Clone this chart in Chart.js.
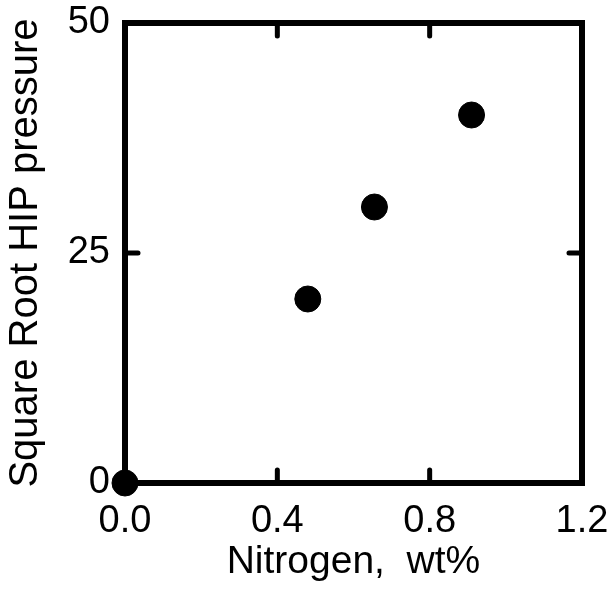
<!DOCTYPE html>
<html>
<head>
<meta charset="utf-8">
<script src="https://cdn.jsdelivr.net/npm/chart.js@4"></script>
<style>
    body { margin: 0; background: #fff; }
    #wrap { width: 615px; height: 592px; }
</style>
</head>
<body>
<div id="wrap"><canvas id="chart" width="615" height="592"></canvas></div>
<script>
// Data
const nitrogen = [0.0, 0.48, 0.655, 0.91];
const sqrtPressure = [0, 20, 30, 40];
const xTicks = [0.0, 0.4, 0.8, 1.2];
const yTicks = [0, 25, 50];
const xTitle = 'Nitrogen,  wt%';
const yTitle = 'Square Root HIP pressure';

const FONT = "'Liberation Sans', Arial, sans-serif";

// Thick frame plus small inward ticks on all four sides
const framePlugin = {
    id: 'frame',
    afterDatasetsDraw(chart) {
        const ctx = chart.ctx;
        const a = chart.chartArea;
        const xs = chart.scales.x;
        const ys = chart.scales.y;
        ctx.save();
        ctx.strokeStyle = '#000';
        ctx.lineWidth = 5;
        ctx.lineCap = 'round';
        xTicks.slice(1, -1).forEach(v => {
            const px = xs.getPixelForValue(v);
            ctx.beginPath();
            ctx.moveTo(px, a.bottom);
            ctx.lineTo(px, a.bottom - 13);
            ctx.moveTo(px, a.top);
            ctx.lineTo(px, a.top + 13);
            ctx.stroke();
        });
        yTicks.slice(1, -1).forEach(v => {
            const py = ys.getPixelForValue(v);
            ctx.beginPath();
            ctx.moveTo(a.left, py);
            ctx.lineTo(a.left + 13, py);
            ctx.moveTo(a.right, py);
            ctx.lineTo(a.right - 13, py);
            ctx.stroke();
        });
        ctx.lineCap = 'butt';
        ctx.lineWidth = 6;
        ctx.strokeRect(a.left, a.top, a.right - a.left, a.bottom - a.top);
        ctx.restore();
    }
};

// keep the plot box where the picture has it: no extra room for label overhang
function noOverhang(scale) {
    scale.paddingTop = 0;
    scale.paddingBottom = 0;
    scale.paddingLeft = 0;
    scale.paddingRight = 0;
}

new Chart(document.getElementById('chart'), {
    type: 'scatter',
    data: {
        datasets: [{
            data: nitrogen.map((x, i) => ({ x: x, y: sqrtPressure[i] })),
            backgroundColor: '#000',
            borderColor: '#000',
            pointRadius: 13,
            pointHoverRadius: 13,
            clip: false
        }]
    },
    options: {
        responsive: false,
        animation: false,
        layout: { padding: { top: 23, right: 33, left: 0, bottom: 0 } },
        plugins: {
            legend: { display: false },
            tooltip: { enabled: false }
        },
        scales: {
            x: {
                type: 'linear',
                min: 0,
                max: 1.2,
                afterBuildTicks: scale => { scale.ticks = xTicks.map(v => ({ value: v })); },
                afterFit: scale => { scale.height = 109; noOverhang(scale); },
                grid: { display: false, drawTicks: false },
                border: { display: false },
                ticks: {
                    color: '#000',
                    padding: 16,
                    font: { family: FONT, size: 38 },
                    callback: v => v.toFixed(1)
                },
                title: {
                    display: true,
                    text: xTitle,
                    color: '#000',
                    padding: { top: 0, bottom: 6 },
                    font: { family: FONT, size: 39 }
                }
            },
            y: {
                type: 'linear',
                min: 0,
                max: 50,
                afterBuildTicks: scale => { scale.ticks = yTicks.map(v => ({ value: v })); },
                afterFit: scale => { scale.width = 125; noOverhang(scale); },
                grid: { display: false, drawTicks: false },
                border: { display: false },
                ticks: {
                    color: '#000',
                    padding: 15,
                    font: { family: FONT, size: 38 }
                },
                title: {
                    display: true,
                    text: yTitle,
                    color: '#000',
                    padding: { top: 2, bottom: 0 },
                    font: { family: FONT, size: 40 }
                }
            }
        }
    },
    plugins: [framePlugin]
});
</script>
</body>
</html>
